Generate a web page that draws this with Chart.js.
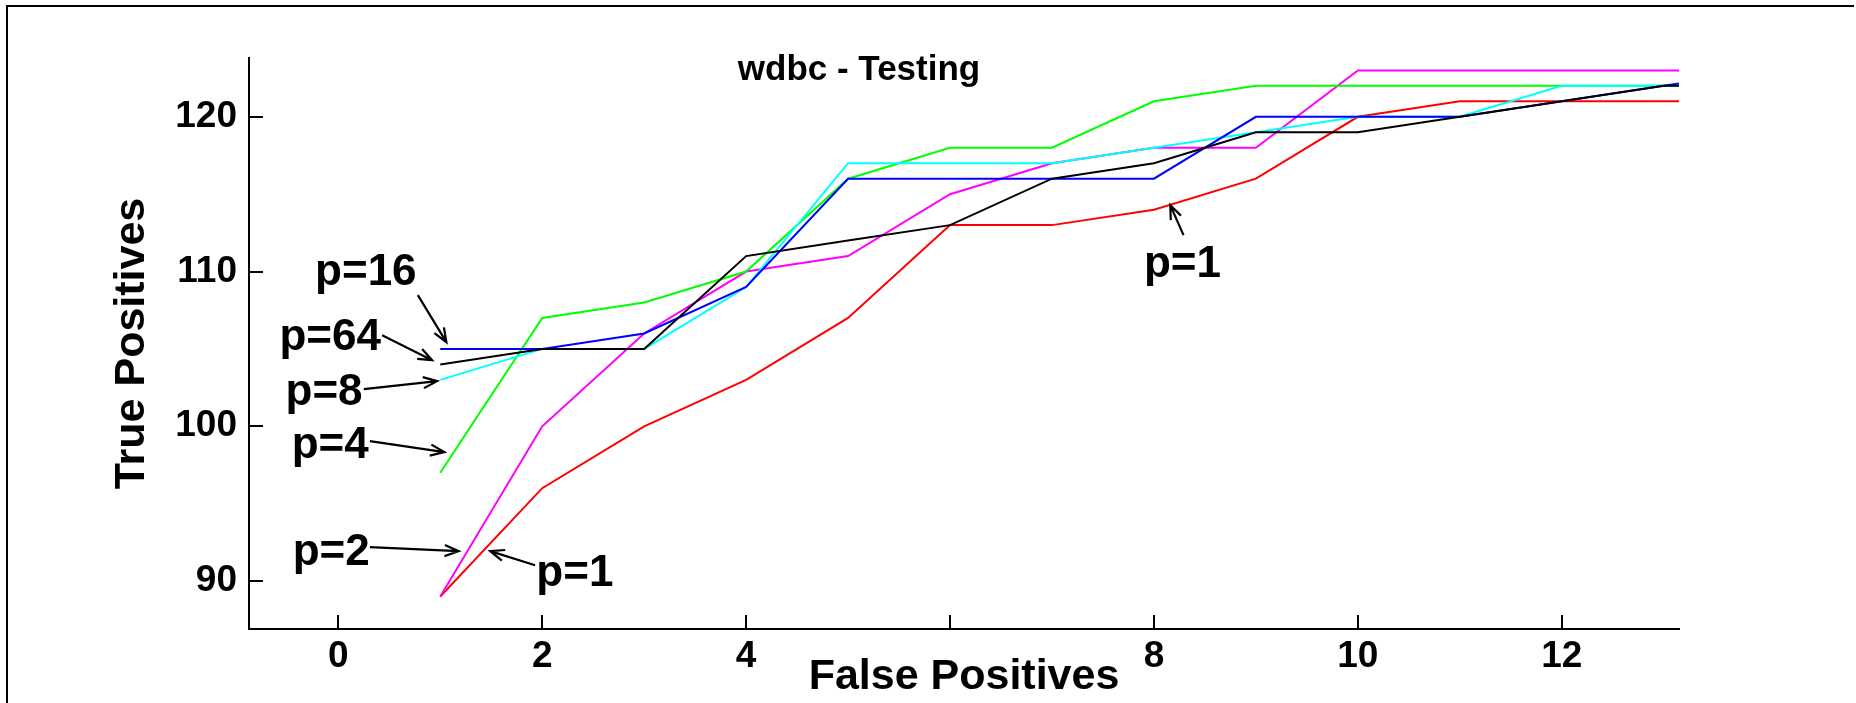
<!DOCTYPE html>
<html>
<head>
<meta charset="utf-8">
<title>wdbc - Testing</title>
<script src="https://cdn.jsdelivr.net/npm/chart.js"></script>
<style>
  html, body { margin: 0; padding: 0; background: #fff; }
  #wrap { position: relative; width: 1856px; height: 703px; overflow: hidden; }
  #frame {
    position: absolute; left: 6px; top: 5px; width: 1846px; height: 760px;
    border-top: 2px solid #000; border-left: 2px solid #000; pointer-events: none;
  }
</style>
</head>
<body>
<div id="wrap">
  <canvas id="rocChart" width="1856" height="703"></canvas>
  <div id="frame"></div>
</div>
<script>
// False positives on x, true positives per setting of p
const falsePositives = [1, 2, 3, 4, 5, 6, 7, 8, 9, 10, 11, 12, 13, 14];
const tpP1  = [89, 96, 100, 103, 107, 113, 113, 114, 116, 120, 121, 121, 121, 121];
const tpP2  = [89, 100, 106, 110, 111, 115, 117, 118, 118, 123, 123, 123, 123, 123];
const tpP4  = [97, 107, 108, 110, 116, 118, 118, 121, 122, 122, 122, 122, 122, 122];
const tpP8  = [103, 105, 105, 109, 117, 117, 117, 118, 119, 120, 120, 122, 122, 122];
const tpP16 = [105, 105, 106, 109, 116, 116, 116, 116, 120, 120, 120, 121, 122, 123];
const tpP64 = [104, 105, 105, 111, 112, 113, 116, 117, 119, 119, 120, 121, 122, 122];

const seriesNames = ['p=1', 'p=2', 'p=4', 'p=8', 'p=16', 'p=64'];
const seriesValues = [tpP1, tpP2, tpP4, tpP8, tpP16, tpP64];
const seriesColors = ['#ff0000', '#ff00ff', '#00ff00', '#00ffff', '#0000ff', '#000000'];

const xTicks = [0, 2, 4, 6, 8, 10, 12];
const xTickLabels = ['0', '2', '4', '', '8', '10', '12'];
const yTicks = [90, 100, 110, 120];
const yTickLabels = ['90', '100', '110', '120'];

const chartTitle = 'wdbc - Testing';

// callouts: label anchor (centre, baseline) and arrow tail -> head, in axis units
const callouts = [
    { text: 'p=16', at: [0.27, 109.12], from: [0.78, 108.48], to: [1.06, 105.44] },
    { text: 'p=64', at: [-0.08, 104.92], from: [0.43, 105.89], to: [0.92, 104.27] },
    { text: 'p=8',  at: [-0.14, 101.36], from: [0.25, 102.40], to: [0.97, 102.92] },
    { text: 'p=4',  at: [-0.08, 97.94],  from: [0.31, 99.04],  to: [1.04, 98.33] },
    { text: 'p=2',  at: [-0.07, 91.02],  from: [0.31, 92.19],  to: [1.18, 91.93] },
    { text: 'p=1',  at: [2.32, 89.67],   from: [1.93, 91.02],  to: [1.49, 91.93] },
    { text: 'p=1',  at: [8.28, 109.64],  from: [8.29, 112.35], to: [8.16, 114.29] }
];

const FONT = "'Liberation Sans', Arial, Helvetica, sans-serif";
Chart.defaults.font.family = FONT;
Chart.defaults.color = '#000';

function drawArrow(ctx, x1, y1, x2, y2) {
    const ang = Math.atan2(y2 - y1, x2 - x1);
    const head = 15, spread = 0.38;
    ctx.beginPath();
    ctx.moveTo(x1, y1);
    ctx.lineTo(x2, y2);
    ctx.moveTo(x2 - head * Math.cos(ang - spread), y2 - head * Math.sin(ang - spread));
    ctx.lineTo(x2, y2);
    ctx.lineTo(x2 - head * Math.cos(ang + spread), y2 - head * Math.sin(ang + spread));
    ctx.stroke();
}

const calloutPlugin = {
    id: 'callouts',
    afterDatasetsDraw(chart) {
        const { ctx, scales: { x, y } } = chart;
        ctx.save();
        ctx.fillStyle = '#000';
        ctx.strokeStyle = '#000';
        ctx.lineWidth = 2.2;
        ctx.lineJoin = 'miter';
        ctx.font = `bold 44px ${FONT}`;
        ctx.textAlign = 'center';
        ctx.textBaseline = 'alphabetic';
        callouts.forEach(c => {
            ctx.fillText(c.text, x.getPixelForValue(c.at[0]), y.getPixelForValue(c.at[1]));
            drawArrow(ctx,
                x.getPixelForValue(c.from[0]), y.getPixelForValue(c.from[1]),
                x.getPixelForValue(c.to[0]), y.getPixelForValue(c.to[1]));
        });
        // plot heading sits left of the axes centre
        ctx.font = `bold 35px ${FONT}`;
        ctx.fillText(chartTitle, 859, 80);
        ctx.restore();
    }
};

const datasets = seriesNames.map((name, i) => ({
    label: name,
    data: falsePositives.map((fp, j) => ({ x: fp, y: seriesValues[i][j] })),
    borderColor: seriesColors[i],
    borderWidth: 2,
    pointRadius: 0,
    fill: false,
    tension: 0,
    order: seriesNames.length - i   // later series drawn on top
}));

const tickFont = { size: 37, weight: 'bold', lineHeight: 1.2 };
const titleFont = { size: 43, weight: 'bold', lineHeight: 1 };

new Chart(document.getElementById('rocChart'), {
    type: 'line',
    data: { datasets },
    plugins: [calloutPlugin],
    options: {
        responsive: false,
        animation: false,
        layout: { padding: { top: 58, right: 177, bottom: 0, left: 0 } },
        plugins: {
            legend: { display: false },
            tooltip: { enabled: false },
            title: { display: false }
        },
        scales: {
            x: {
                type: 'linear',
                min: -0.876,
                max: 13.15,
                afterFit: s => { s.height = 74; },
                afterBuildTicks: s => { s.ticks = xTicks.map(v => ({ value: v })); },
                ticks: {
                    callback: v => { const i = xTicks.indexOf(v); return i >= 0 ? xTickLabels[i] : ''; },
                    font: tickFont,
                    color: '#000',
                    padding: 20,
                    maxRotation: 0,
                    autoSkip: false
                },
                grid: { drawOnChartArea: false, tickLength: -14, color: '#000', lineWidth: 2 },
                border: { color: '#000', width: 2 },
                title: {
                    display: true,
                    text: 'False Positives',
                    color: '#000',
                    font: titleFont,
                    padding: { top: 0, bottom: 4.5 }
                }
            },
            y: {
                min: 86.9,
                max: 123.8,
                afterFit: s => { s.width = 249; },
                afterBuildTicks: s => { s.ticks = yTicks.map(v => ({ value: v })); },
                ticks: {
                    callback: v => { const i = yTicks.indexOf(v); return i >= 0 ? yTickLabels[i] : ''; },
                    font: tickFont,
                    color: '#000',
                    padding: 26
                },
                grid: { drawOnChartArea: false, tickLength: -14, color: '#000', lineWidth: 2 },
                border: { color: '#000', width: 2 },
                title: {
                    display: true,
                    text: 'True Positives',
                    color: '#000',
                    font: titleFont,
                    padding: { top: 111, bottom: 0 }
                }
            }
        }
    }
});
</script>
</body>
</html>
